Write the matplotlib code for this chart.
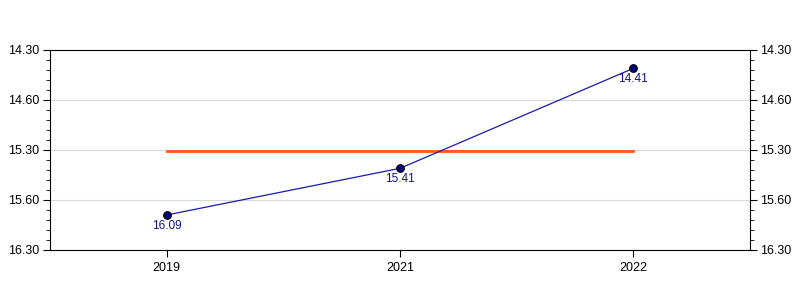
import matplotlib
matplotlib.use("Agg")
import matplotlib.pyplot as plt
from matplotlib.ticker import FixedLocator, FixedFormatter, MultipleLocator

plt.rcParams['font.family'] = ['Liberation Sans', 'DejaVu Sans']

years = ['2019', '2021', '2022']
# times written as minutes.seconds
times = ['16.09', '15.41', '14.41']
ytick_pos = [14.5, 15.0, 15.5, 16.0, 16.5]
ytick_labels = ['14.30', '14.60', '15.30', '15.60', '16.30']

def toMinutes(s):
    m, sec = s.split('.')
    return int(m) + int(sec) / 60.0

vals = [toMinutes(s) for s in times]
avg = sum(vals) / len(vals)
x = list(range(len(years)))

fig = plt.figure(figsize=(8, 3), dpi=100)
ax = fig.add_axes([50/800, 50/300, 700/800, 200/300])

ax.plot(x, vals, color='#1a1aa6', lw=0.9, zorder=3)
ax.plot(x, vals, 'o', color='#000080', mec='black', mew=0.8, ms=5.5, zorder=4)
ax.plot([x[0], x[-1]], [avg, avg], color='#ff5a14', lw=2, zorder=2)
for xi, v, s in zip(x, vals, times):
    ax.annotate(s, (xi, v), xytext=(0, -8), textcoords='offset points',
                ha='center', va='center', fontsize=8.5, color='#101090')

ax.set_xlim(-0.5, 2.5)
ax.set_ylim(16.5, 14.5)
ax.set_xticks(x)
ax.set_xticklabels(years, fontsize=9)
ax.yaxis.set_major_locator(FixedLocator(ytick_pos))
ax.yaxis.set_major_formatter(FixedFormatter(ytick_labels))
ax.yaxis.set_minor_locator(MultipleLocator(0.1))
ax.tick_params(axis='y', which='both', left=True, right=True,
               labelleft=True, labelright=True, labelsize=9, direction='out', pad=2.5)
ax.tick_params(axis='y', which='major', length=5)
ax.tick_params(axis='y', which='minor', length=3)
ax.tick_params(axis='x', length=5, labelsize=9)
ax.grid(axis='y', which='major', color='#d9d9d9', lw=0.8)
ax.set_axisbelow(True)

fig.savefig('out.png', dpi=100)
